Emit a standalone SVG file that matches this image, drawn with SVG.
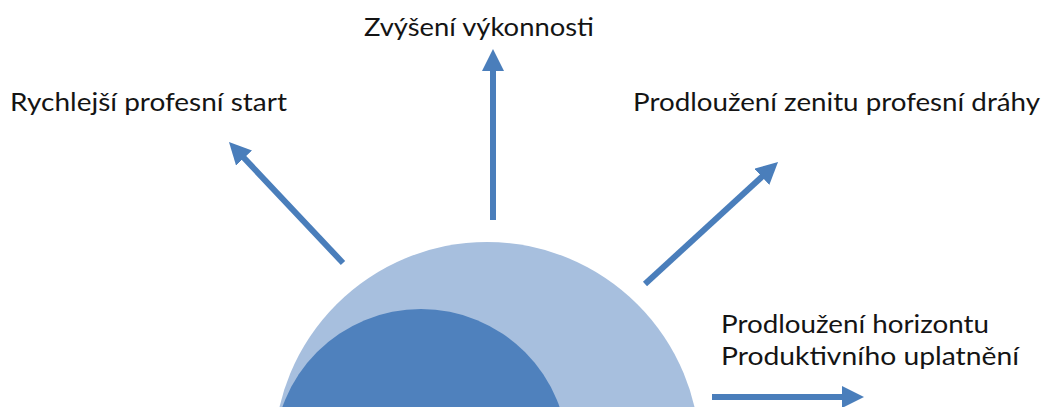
<svg xmlns="http://www.w3.org/2000/svg" width="1048" height="407" viewBox="0 0 1048 407">
<style>
.lbl{font-family:"Lato","Liberation Sans",sans-serif;font-size:25px;fill:#141414}
.arr{stroke:#4A7EBB;stroke-width:6;fill:none;marker-end:url(#head)}
</style>
<defs>
<marker id="head" markerUnits="userSpaceOnUse" markerWidth="22" markerHeight="22" refX="10" refY="11" orient="auto">
<path d="M0,0 L22,11 L0,22 z" fill="#4A7EBB"/>
</marker>
</defs>
<rect width="1048" height="407" fill="#ffffff"/>
<g id="outer-circle"><circle cx="487" cy="455" r="213" fill="#A7BFDE"/></g>
<g id="inner-circle"><circle cx="421" cy="456" r="147" fill="#4F81BD"/></g>
<g id="connectors">
<line class="arr" x1="343" y1="263" x2="237.2" y2="150.7"/>
<line class="arr" x1="493" y1="220" x2="493" y2="61"/>
<line class="arr" x1="645" y1="284" x2="769.2" y2="170.1"/>
<line class="arr" x1="712" y1="397" x2="852" y2="397"/>
</g>
<g id="node-vykonnost"><text class="lbl" x="364" y="36" textLength="230" lengthAdjust="spacingAndGlyphs">Zvýšení výkonnosti</text></g>
<g id="node-start"><text class="lbl" x="10" y="111" textLength="277" lengthAdjust="spacingAndGlyphs">Rychlejší profesní start</text></g>
<g id="node-zenit"><text class="lbl" x="633" y="111" textLength="407" lengthAdjust="spacingAndGlyphs">Prodloužení zenitu profesní dráhy</text></g>
<g id="node-horizont">
<text class="lbl" x="721" y="333" textLength="268" lengthAdjust="spacingAndGlyphs">Prodloužení horizontu</text>
<text class="lbl" x="721" y="365" textLength="298" lengthAdjust="spacingAndGlyphs">Produktivního uplatnění</text>
</g>
</svg>
